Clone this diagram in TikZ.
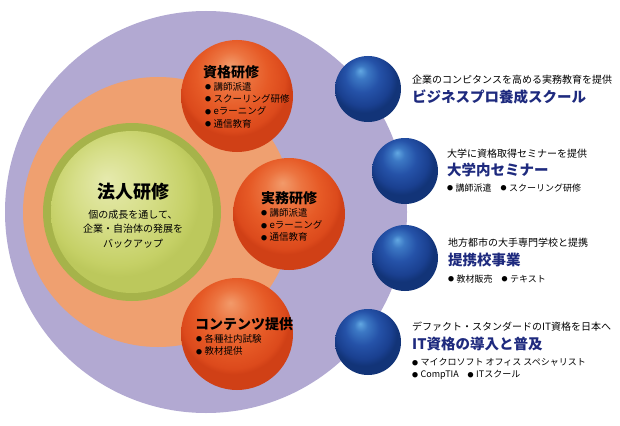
\documentclass[tikz,border=0pt]{standalone}
\usepackage{fontspec}
\setmainfont{Noto Sans CJK JP}
\definecolor{lavend}{HTML}{B2A9D2}
\definecolor{salmon}{HTML}{EFA070}
\definecolor{olive}{HTML}{A6B34A}
\definecolor{navy}{HTML}{1E2A7E}
\pgfdeclareradialshading{redball}{\pgfpoint{-3bp}{14bp}}{color(0bp)=(rgb,255:red,242;green,154;blue,106); color(8bp)=(rgb,255:red,236;green,116;blue,64); color(16bp)=(rgb,255:red,230;green,90;blue,38); color(23bp)=(rgb,255:red,220;green,74;blue,28); color(25bp)=(rgb,255:red,208;green,64;blue,22); color(50bp)=(rgb,255:red,208;green,64;blue,22)}
\pgfdeclareradialshading{blueball}{\pgfpoint{-6bp}{14bp}}{color(0bp)=(rgb,255:red,98;green,168;blue,226); color(5bp)=(rgb,255:red,60;green,120;blue,196); color(13bp)=(rgb,255:red,37;green,82;blue,168); color(21bp)=(rgb,255:red,26;green,64;blue,144); color(25bp)=(rgb,255:red,18;green,52;blue,120); color(50bp)=(rgb,255:red,18;green,52;blue,120)}
\pgfdeclareradialshading{greenball}{\pgfpoint{-8bp}{10bp}}{color(0bp)=(rgb,255:red,230;green,234;blue,174); color(12bp)=(rgb,255:red,214;green,222;blue,136); color(22bp)=(rgb,255:red,197;green,208;blue,102); color(25bp)=(rgb,255:red,188;green,200;blue,92); color(50bp)=(rgb,255:red,188;green,200;blue,92)}
\newcommand\bul{\raisebox{0.5pt}{\fontsize{6}{6}\selectfont ●}\hspace{2.5pt}}
\tikzset{
	disc/.style={circle, inner sep=0pt, minimum size=#1},
	redsph/.style={disc=112pt, shade, shading=redball},
	bluesph/.style={disc=66pt, shade, shading=blueball},
	rtitle/.style={anchor=west, inner sep=0pt, font=\fontsize{14}{16}\selectfont\bfseries},
	lst/.style={anchor=west, inner sep=0pt, align=left, font=\fontsize{9.5}{12.3}\selectfont},
	sub/.style={anchor=west, inner sep=0pt, font=\fontsize{10}{12}\selectfont},
	btitle/.style={anchor=west, inner sep=0pt, text=navy, font=\fontsize{14.5}{16}\selectfont\bfseries},
	blst/.style={anchor=west, inner sep=0pt, align=left, font=\fontsize{9}{12}\selectfont}
}

\begin{document}
\begin{tikzpicture}[x=1pt, y=-1pt]

	\path[use as bounding box, fill=white] (0,0) rectangle (620,425);

	% rings
	\node[disc=402pt, fill=lavend] (outer) at (206,212) {};
	\node[disc=270pt, fill=salmon] (mid) at (158,212) {};
	\node[disc=178pt, fill=olive] (hojin) at (132,212) {};
	\node[disc=162pt, shade, shading=greenball] (hojinIn) at (132,212) {};

	\node[anchor=center, inner sep=0pt, font=\fontsize{18}{20}\selectfont\bfseries] (hojinT) at (133,192) {法人研修};
	\node[anchor=center, inner sep=0pt, align=center, font=\fontsize{10}{14.5}\selectfont] (hojinL) at (133,229) {個の成長を通して、\\企業・自治体の発展を\\バックアップ};

	% red spheres
	\node[redsph] (shikaku) at (237,96) {};
	\node[redsph] (jitsumu) at (289,214) {};
	\node[redsph] (contents) at (237,334) {};

	\node[rtitle] (shikakuT) at (203,72) {資格研修};
	\node[lst] (shikakuL) at (205,105) {\bul 講師派遣\\ \bul スクーリング研修\\ \bul eラーニング\\ \bul 通信教育};

	\node[rtitle] (jitsumuT) at (261,198) {実務研修};
	\node[lst] (jitsumuL) at (261,225) {\bul 講師派遣\\ \bul eラーニング\\ \bul 通信教育};

	\node[rtitle] (contentsT) at (195,324) {コンテンツ提供};
	\node[lst] (contentsL) at (196,345) {\bul 各種社内試験\\ \bul 教材提供};

	% blue spheres
	\node[bluesph] (biz) at (368,89) {};
	\node[bluesph] (dai) at (405,171) {};
	\node[bluesph] (teikei) at (405,258) {};
	\node[bluesph] (it) at (368,342) {};

	\node[sub] (bizS) at (412,80) {企業のコンピタンスを高める実務教育を提供};
	\node[btitle] (bizT) at (412,97) {ビジネスプロ養成スクール};

	\node[sub] (daiS) at (447,154) {大学に資格取得セミナーを提供};
	\node[btitle] (daiT) at (447,170) {大学内セミナー};
	\node[blst] (daiL) at (447,188) {\bul 講師派遣\quad\bul スクーリング研修};

	\node[sub] (teikeiS) at (448,243) {地方都市の大手専門学校と提携};
	\node[btitle] (teikeiT) at (448,260) {提携校事業};
	\node[blst] (teikeiL) at (448,279) {\bul 教材販売\quad\bul テキスト};

	\node[sub] (itS) at (412,327) {デファクト・スタンダードのIT資格を日本へ};
	\node[btitle] (itT) at (412,344) {IT資格の導入と普及};
	\node[blst] (itL) at (412,369) {\bul マイクロソフト オフィス スペシャリスト\\ \bul CompTIA\quad\bul ITスクール};
\end{tikzpicture}
\end{document}
